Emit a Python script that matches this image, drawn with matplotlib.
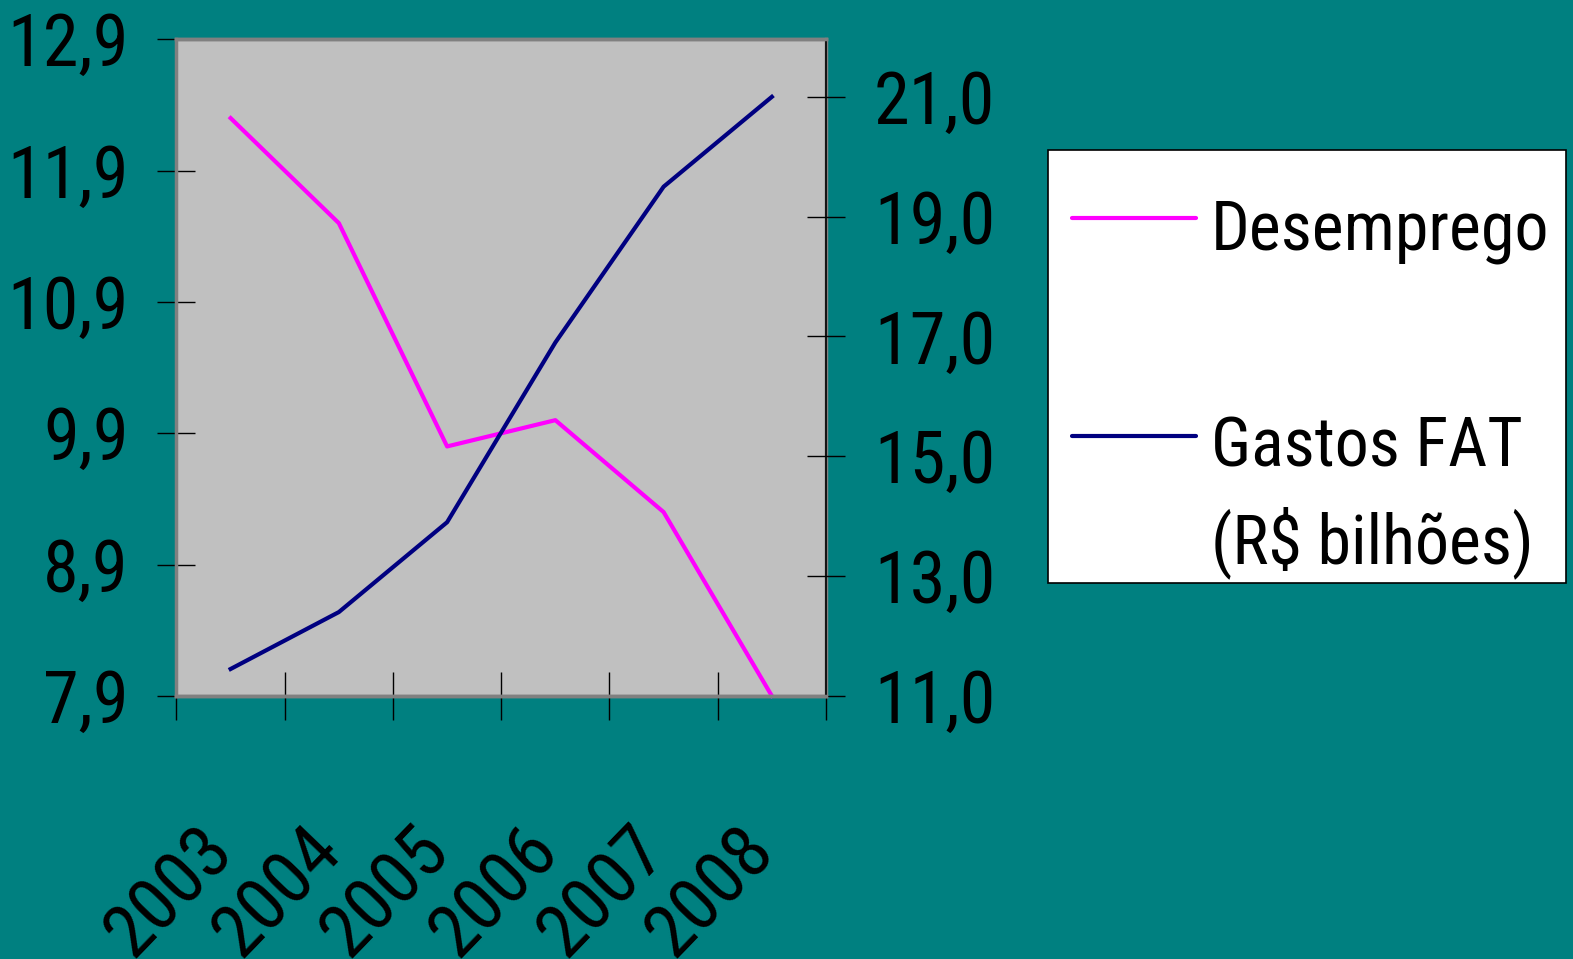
import matplotlib
matplotlib.use("Agg")
import matplotlib.pyplot as plt
from matplotlib.lines import Line2D
from matplotlib.patches import Rectangle

# data
anos = ['2003', '2004', '2005', '2006', '2007', '2008']
desemprego = [12.3, 11.5, 9.8, 10.0, 9.3, 7.9]
gastos_fat = [11.45, 12.4, 13.9, 16.9, 19.5, 21.0]
left_ticks = [7.9, 8.9, 9.9, 10.9, 11.9, 12.9]
right_ticks = [11.0, 13.0, 15.0, 17.0, 19.0, 21.0]
series_names = ['Desemprego', 'Gastos FAT', '(R$ bilhões)']

teal = '#008080'
plt.rcParams['font.family'] = ['Roboto Condensed', 'Liberation Sans', 'DejaVu Sans']

W, H = 1573, 959
fig = plt.figure(figsize=(W / 100, H / 100), dpi=100, facecolor=teal)
ax = fig.add_axes([0.1122, 0.2743, 0.4129, 0.6847])
ax.set_facecolor('#C0C0C0')
ax2 = ax.twinx()

def fx(px):
    return px / W

def fy(py):
    return 1 - py / H

x = list(range(len(anos)))
l1, = ax.plot(x, desemprego, color='#FF00FF', lw=3, clip_on=False)
l2, = ax2.plot(x, gastos_fat, color='#000080', lw=3, clip_on=False)

ax.set_xlim(-0.5, 5.5)
ax.set_ylim(7.9, 12.9)
ax2.set_ylim(11.0, 21.96)

ax.set_yticks(left_ticks)
ax.set_yticklabels([f'{v:.1f}'.replace('.', ',') for v in left_ticks])
ax2.set_yticks(right_ticks)
ax2.set_yticklabels([f'{v:.1f}'.replace('.', ',') for v in right_ticks])

# category boundaries get the tick marks, labels (invisible minor ticks) a bit right of centre
ax.set_xticks([i - 0.5 for i in range(len(anos) + 1)])
ax.set_xticklabels([])
ax.set_xticks([i + 0.15 for i in x], minor=True)
ax.set_xticklabels(anos, minor=True, rotation=46, ha='right', va='top', fontsize=54)
ax.tick_params(axis='x', which='major', direction='inout', length=35, width=1, color='black')
ax.tick_params(axis='x', which='minor', length=0, pad=85)

ax.tick_params(axis='y', direction='inout', length=27, width=1, labelsize=52, pad=21)
ax2.tick_params(axis='y', direction='inout', length=27, width=1, labelsize=52, pad=21)

for a in (ax, ax2):
    for s in a.spines.values():
        s.set_color('#808080')
        s.set_linewidth(2.5)
ax.spines['left'].set_color('black')
ax.spines['left'].set_linewidth(1.2)
ax2.spines['right'].set_color('black')
ax2.spines['right'].set_linewidth(1.2)

# legend box drawn by hand so the FAT line sits on the first text line
fig.patches.append(Rectangle((fx(1048), fy(583)), fx(1566) - fx(1048), fy(150) - fy(583),
                             transform=fig.transFigure, facecolor='white',
                             edgecolor='black', lw=1.2, zorder=5))
for line, py in ((l1, 218), (l2, 436)):
    fig.add_artist(Line2D([fx(1072), fx(1196)], [fy(py), fy(py)], transform=fig.transFigure,
                          color=line.get_color(), lw=3, solid_capstyle='round', zorder=6))
for txt, py in zip(series_names, (249, 467, 563)):
    fig.text(fx(1211), fy(py), txt, fontsize=49, ha='left', va='baseline', zorder=6)

fig.savefig('out.png', dpi=100, facecolor=teal)
